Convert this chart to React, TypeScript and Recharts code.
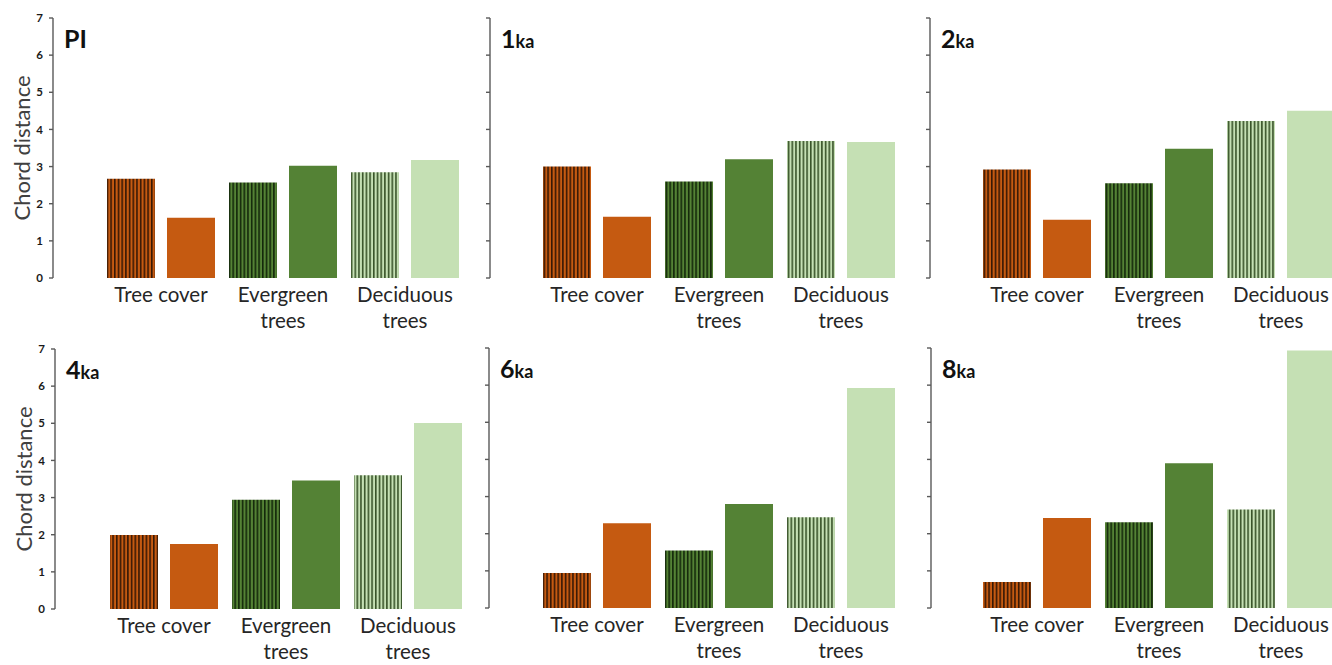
import { BarChart, Bar, XAxis, YAxis, Cell } from 'recharts';

const categories = ['Tree cover', 'Evergreen trees', 'Deciduous trees'];
const categoryLines = [['Tree cover'], ['Evergreen', 'trees'], ['Deciduous', 'trees']];
const yTicks = [0, 1, 2, 3, 4, 5, 6, 7];

// [hatched, solid] per category, one array per period
const piHatched = [2.67, 2.57, 2.85];
const piSolid = [1.62, 3.02, 3.18];
const ka1Hatched = [3.0, 2.6, 3.69];
const ka1Solid = [1.65, 3.2, 3.66];
const ka2Hatched = [2.92, 2.55, 4.23];
const ka2Solid = [1.57, 3.48, 4.5];
const ka4Hatched = [1.99, 2.94, 3.6];
const ka4Solid = [1.75, 3.46, 5.01];
const ka6Hatched = [0.94, 1.55, 2.44];
const ka6Solid = [2.28, 2.8, 5.92];
const ka8Hatched = [0.7, 2.31, 2.65];
const ka8Solid = [2.42, 3.9, 6.93];

const solidColors = ['#C55A11', '#548235', '#C5E0B4'];
const stripeBase = ['#C55A11', '#548235', '#C5E0B4'];
const stripeLine = ['#2e1404', '#0f2207', '#2f4a20'];

const FONT = 'Lato, "Open Sans", sans-serif';

const CategoryTick = (props: any) => {
  const { x, y, payload } = props;
  const lines = categoryLines[categories.indexOf(payload.value)] || [payload.value];
  return (
    <text x={x} y={y} textAnchor="middle" fontSize={20.5} fill="#262626" fontFamily={FONT}>
      {lines.map((l, i) => (
        <tspan key={i} x={x} dy={i === 0 ? 24 : 26}>
          {l}
        </tspan>
      ))}
    </text>
  );
};

interface PanelProps {
  id: string;
  big: string;
  small: string;
  hatched: number[];
  solid: number[];
  axisX: number;
  top: number;
  padLeft: number;
  showTicks: boolean;
}

const Panel = ({ id, big, small, hatched, solid, axisX, top, padLeft, showTicks }: PanelProps) => {
  const yw = 50;
  const data = categories.map((c, i) => ({ name: c, hatched: hatched[i], solid: solid[i] }));
  return (
    <>
      <div style={{ position: 'absolute', left: axisX - yw, top: top - 10 }}>
        <BarChart
          width={yw + padLeft + 366 + 10}
          height={10 + 260 + 60}
          data={data}
          margin={{ top: 10, right: 10, left: 0, bottom: 0 }}
          barSize={48}
          barGap={12}
        >
          <defs>
            {stripeBase.map((b, i) => (
              <pattern key={i} id={`stripe-${id}-${i}`} patternUnits="userSpaceOnUse" width={3.7} height={10}>
                <rect x={0} y={0} width={3.7} height={10} fill={b} />
                <line x1={0.8} y1={0} x2={0.8} y2={10} stroke={stripeLine[i]} strokeWidth={1.5} />
              </pattern>
            ))}
          </defs>
          <XAxis
            dataKey="name"
            axisLine={false}
            tickLine={false}
            tickSize={0}
            tickMargin={0}
            height={60}
            padding={{ left: padLeft, right: 0 }}
            tick={<CategoryTick />}
            interval={0}
          />
          <YAxis
            domain={[0, 7]}
            ticks={yTicks}
            width={yw}
            axisLine={{ stroke: '#595959', strokeWidth: 1.4 }}
            tickLine={{ stroke: '#595959', strokeWidth: 1.4 }}
            tickSize={4}
            tickMargin={6}
            tickFormatter={(v: number) => (showTicks ? String(v) : '')}
            tick={{ fontSize: 11.5, fontWeight: 700, fill: '#1a1a1a', fontFamily: FONT }}
            label={
              showTicks
                ? { value: 'Chord distance', angle: -90, position: 'center', dx: -6, fontSize: 22, fill: '#404040', fontFamily: FONT }
                : undefined
            }
          />
          <Bar dataKey="hatched" isAnimationActive={false}>
            {data.map((_, i) => (
              <Cell key={i} fill={`url(#stripe-${id}-${i})`} />
            ))}
          </Bar>
          <Bar dataKey="solid" isAnimationActive={false}>
            {data.map((_, i) => (
              <Cell key={i} fill={solidColors[i]} />
            ))}
          </Bar>
        </BarChart>
      </div>
      <div
        style={{
          position: 'absolute',
          left: axisX + 11,
          top: top + 8,
          fontFamily: FONT,
          fontWeight: 700,
          lineHeight: 1,
          color: '#111',
          whiteSpace: 'nowrap',
        }}
      >
        <span style={{ fontSize: 25 }}>{big}</span>
        <span style={{ fontSize: 18 }}>{small}</span>
      </div>
    </>
  );
};

export default function App() {
  return (
    <div
      style={{
        position: 'absolute',
        left: 0,
        top: 0,
        width: 1332,
        height: 665,
        overflow: 'hidden',
        background: '#fff',
      }}
    >
      <Panel id="p1" big="PI" small="" hatched={piHatched} solid={piSolid} axisX={53} top={18} padLeft={47} showTicks />
      <Panel id="p2" big="1" small="ka" hatched={ka1Hatched} solid={ka1Solid} axisX={490} top={18} padLeft={46} showTicks={false} />
      <Panel id="p3" big="2" small="ka" hatched={ka2Hatched} solid={ka2Solid} axisX={930} top={18} padLeft={46} showTicks={false} />
      <Panel id="p4" big="4" small="ka" hatched={ka4Hatched} solid={ka4Solid} axisX={55} top={349} padLeft={48} showTicks />
      <Panel id="p5" big="6" small="ka" hatched={ka6Hatched} solid={ka6Solid} axisX={489} top={348} padLeft={47} showTicks={false} />
      <Panel id="p6" big="8" small="ka" hatched={ka8Hatched} solid={ka8Solid} axisX={931} top={348} padLeft={45} showTicks={false} />
    </div>
  );
}
